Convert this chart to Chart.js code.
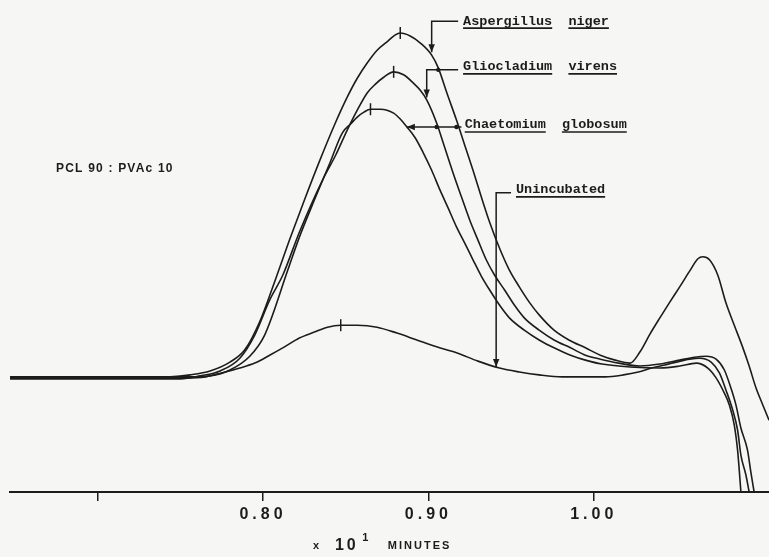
<!DOCTYPE html>
<html><head><meta charset="utf-8">
<script src="https://cdn.jsdelivr.net/npm/chart.js@4/dist/chart.umd.min.js"></script>
<style>html,body{margin:0;padding:0;background:#f6f6f4;}canvas{display:block;}</style>
</head><body>
<canvas id="c" width="769" height="557"></canvas>
<script>
// ---- data (elution time in units of 10 min, detector response in arbitrary units) ----
const xMin = 0.647, xMax = 1.106;
const xTickValues = [0.70, 0.80, 0.90, 1.00];
const xTickLabels = ['', '0.80', '0.90', '1.00'];

const aspergillusX = [0.647,0.702,0.744,0.756,0.768,0.780,0.789,0.798,0.807,0.816,0.825,0.834,0.844,0.851,0.857,0.863,0.869,0.875,0.880,0.883,0.889,0.895,0.902,0.906,0.911,0.917,0.922,0.927,0.932,0.937,0.943,0.949,0.955,0.961,0.967,0.976,0.985,0.995,1.004,1.013,1.022,1.028,1.034,1.040,1.046,1.052,1.058,1.063,1.066,1.070,1.075,1.080,1.085,1.090,1.094,1.098,1.102,1.106];
const aspergillusY = [23.2,23.2,23.4,23.8,24.6,26.4,28.9,34.6,42.7,51.2,59.3,67.1,75.2,80.3,84.1,87.2,89.8,91.5,92.9,93.3,92.7,91.3,88.8,86.2,81.3,75.6,70.5,65.4,60.0,54.9,49.6,45.1,41.7,38.6,36.0,32.9,30.9,29.3,27.8,26.8,26.2,28.5,32.1,35.4,38.6,41.7,44.9,47.4,47.8,47.2,44.1,38.4,33.9,29.5,25.6,21.3,17.9,14.6];

const gliocladiumX = [0.647,0.702,0.750,0.762,0.774,0.786,0.795,0.804,0.812,0.822,0.836,0.844,0.851,0.857,0.863,0.868,0.873,0.879,0.885,0.891,0.895,0.899,0.905,0.910,0.915,0.920,0.925,0.930,0.935,0.940,0.946,0.952,0.958,0.967,0.976,0.986,0.995,1.004,1.015,1.028,1.040,1.052,1.061,1.068,1.074,1.079,1.083,1.086,1.089,1.093,1.095,1.097];
const gliocladiumY = [23.0,23.0,23.0,23.6,24.6,27.2,31.9,39.0,44.1,52.8,63.4,68.5,73.6,77.6,81.1,82.9,84.3,85.4,84.8,83.1,81.7,79.7,75.0,69.9,64.8,60.0,55.3,51.2,47.2,44.1,41.1,38.0,35.4,32.9,30.9,29.3,27.8,27.0,26.2,25.6,26.0,26.8,27.4,27.6,27.0,24.8,21.1,17.7,13.0,8.5,4.1,0];

const chaetomiumX = [0.647,0.702,0.756,0.768,0.780,0.792,0.801,0.815,0.822,0.831,0.840,0.848,0.853,0.857,0.861,0.865,0.871,0.879,0.883,0.887,0.892,0.897,0.902,0.907,0.912,0.917,0.922,0.927,0.932,0.937,0.943,0.949,0.958,0.967,0.976,0.986,0.995,1.005,1.022,1.040,1.052,1.062,1.069,1.074,1.079,1.082,1.085,1.087,1.088,1.089];
const chaetomiumY = [23.4,23.4,23.4,23.6,24.8,27.6,31.9,45.1,51.8,59.3,66.5,73.0,74.8,76.2,77.2,77.8,77.8,77.0,75.8,74.2,72.0,68.9,65.4,61.4,57.7,53.9,50.6,47.2,43.9,41.1,38.0,35.4,32.9,30.9,29.3,27.8,26.8,26.0,25.4,25.2,25.6,26.2,25.2,23.2,20.1,17.7,13.6,8.5,4.5,0];

const unincubatedX = [0.647,0.702,0.753,0.765,0.775,0.786,0.795,0.804,0.813,0.822,0.831,0.839,0.847,0.857,0.869,0.881,0.893,0.905,0.917,0.930,0.943,0.955,0.967,0.981,0.996,1.007,1.018,1.027,1.035,1.043,1.050,1.058,1.064,1.071,1.076,1.080,1.084,1.087,1.089,1.092,1.094];
const unincubatedY = [23.2,23.2,23.2,23.4,24.2,25.2,26.2,27.8,29.5,31.3,32.5,33.5,33.9,33.9,33.5,32.3,30.9,29.5,28.3,26.6,25.2,24.4,23.8,23.4,23.4,23.4,23.8,24.4,25.2,25.8,26.4,27.0,27.2,26.4,24.2,20.7,16.7,12.6,7.5,3.5,0];

const peakX = [0.883, 0.879, 0.865, 0.847];
const peakY = [93.3, 85.4, 77.8, 33.9];

const seriesNames = ['Aspergillus niger', 'Gliocladium virens', 'Chaetomium globosum', 'Unincubated'];

// ---- layout / style ----
const INK = '#1c1c1c';
const PAPER = '#f6f6f4';
const MONO = 'bold 13.5px "Liberation Mono", "DejaVu Sans Mono", monospace';
const SANS = '"Liberation Sans", Arial, sans-serif';

const callouts = [
  {words:['Aspergillus','niger'],    tx:0.921, ty:95.7, path:[[0.918,95.7],[0.902,95.7],[0.902,89.4]], head:'down', dots:[]},
  {words:['Gliocladium','virens'],   tx:0.921, ty:86.4, path:[[0.918,85.8],[0.899,85.8],[0.899,80.2]], head:'down', dots:[[0.906,85.8]]},
  {words:['Chaetomium','globosum'],  tx:0.922, ty:74.6, path:[[0.920,74.2],[0.887,74.2]], head:'left', dots:[[0.905,74.2],[0.917,74.2]]},
  {words:['Unincubated'],            tx:0.953, ty:61.4, path:[[0.950,60.8],[0.941,60.8],[0.941,25.4]], head:'down', dots:[]}
];
const sampleNote = {text:'PCL 90 : PVAc 10', xRight:0.746, y:65.7};
const axisTitle = {x:0.8302, ten:0.8435, sup:0.8600, unit:0.8755};

function pts(xs, ys){ return xs.map((x,i)=>({x:x, y:ys[i]})); }
function curve(label, xs, ys){
  return {label:label, data:pts(xs, ys), borderColor:INK, borderWidth:1.6, pointRadius:0,
          cubicInterpolationMode:'monotone', fill:false, order:2};
}

const paperPlugin = {
  id:'paper',
  beforeDraw(chart){
    const ctx = chart.ctx;
    ctx.save(); ctx.fillStyle = PAPER; ctx.fillRect(0,0,chart.width,chart.height); ctx.restore();
    ctx.letterSpacing = '4px';
  },
  beforeDatasetsDraw(chart){ chart.ctx.letterSpacing = '0px'; }
};

const annotPlugin = {
  id:'annot',
  afterDatasetsDraw(chart){
    const {ctx, scales:{x, y}, chartArea} = chart;
    ctx.save();
    ctx.strokeStyle = INK; ctx.fillStyle = INK; ctx.lineWidth = 1.5;
    ctx.letterSpacing = '0px';
    callouts.forEach(c => {
      ctx.beginPath(); ctx.lineWidth = 1.5;
      c.path.forEach((p,i) => {
        const px = x.getPixelForValue(p[0]), py = y.getPixelForValue(p[1]);
        if (i === 0) ctx.moveTo(px, py); else ctx.lineTo(px, py);
      });
      ctx.stroke();
      const end = c.path[c.path.length-1];
      const ex = x.getPixelForValue(end[0]), ey = y.getPixelForValue(end[1]);
      ctx.beginPath();
      if (c.head === 'down') { ctx.moveTo(ex, ey); ctx.lineTo(ex-3.2, ey-8); ctx.lineTo(ex+3.2, ey-8); }
      else { ctx.moveTo(ex, ey); ctx.lineTo(ex+8, ey-3.2); ctx.lineTo(ex+8, ey+3.2); }
      ctx.closePath(); ctx.fill();
      c.dots.forEach(d => {
        ctx.beginPath();
        ctx.arc(x.getPixelForValue(d[0]), y.getPixelForValue(d[1]), 2.2, 0, Math.PI*2);
        ctx.fill();
      });
      ctx.font = MONO; ctx.textBaseline = 'middle'; ctx.textAlign = 'left';
      let tx = x.getPixelForValue(c.tx);
      const ty = y.getPixelForValue(c.ty);
      const space = ctx.measureText('  ').width;
      c.words.forEach(w => {
        ctx.fillText(w, tx, ty);
        const wWidth = ctx.measureText(w).width;
        ctx.beginPath(); ctx.lineWidth = 1.6;
        ctx.moveTo(tx, ty + 7); ctx.lineTo(tx + wWidth, ty + 7); ctx.stroke();
        tx += wWidth + space;
      });
    });
    // sample composition note
    ctx.font = 'bold 12px ' + SANS; ctx.letterSpacing = '1.2px';
    ctx.textBaseline = 'middle'; ctx.textAlign = 'right';
    ctx.fillText(sampleNote.text, x.getPixelForValue(sampleNote.xRight), y.getPixelForValue(sampleNote.y));

    // axis title: x 10^1 MINUTES
    const baseY = chartArea.bottom + 57;
    ctx.textAlign = 'left'; ctx.textBaseline = 'alphabetic';
    ctx.letterSpacing = '0px'; ctx.font = 'bold 11px ' + SANS;
    ctx.fillText('x', x.getPixelForValue(axisTitle.x), baseY);
    ctx.font = 'bold 16px ' + SANS; ctx.letterSpacing = '3px';
    ctx.fillText('10', x.getPixelForValue(axisTitle.ten), baseY + 1);
    ctx.font = 'bold 11px ' + SANS; ctx.letterSpacing = '0px';
    ctx.fillText('1', x.getPixelForValue(axisTitle.sup), baseY - 8);
    ctx.font = 'bold 11px ' + SANS; ctx.letterSpacing = '2px';
    ctx.fillText('MINUTES', x.getPixelForValue(axisTitle.unit), baseY);
    ctx.restore();
  }
};

new Chart(document.getElementById('c'), {
  type:'line',
  data:{
    datasets:[
      curve(seriesNames[0], aspergillusX, aspergillusY),
      curve(seriesNames[1], gliocladiumX, gliocladiumY),
      curve(seriesNames[2], chaetomiumX, chaetomiumY),
      curve(seriesNames[3], unincubatedX, unincubatedY),
      {label:'peak maxima', data:pts(peakX, peakY), showLine:false, pointStyle:'line', rotation:90,
       pointRadius:6, pointBorderColor:INK, pointBorderWidth:1.5, borderColor:INK, order:1}
    ]
  },
  options:{
    responsive:false, animation:false, devicePixelRatio:1,
    layout:{autoPadding:false, padding:{left:10, right:0, top:0, bottom:0}},
    plugins:{legend:{display:false}, tooltip:{enabled:false}, title:{display:false}},
    scales:{
      x:{type:'linear', min:xMin, max:xMax,
         afterBuildTicks: s => { s.ticks = xTickValues.map(v => ({value:v})); },
         afterFit: s => { s.height = 65; s.paddingLeft = 0; s.paddingRight = 0; },
         ticks:{callback:(v,i) => xTickLabels[i], color:INK, autoSkip:false, maxRotation:0, padding:4,
                font:{family:SANS, size:16, weight:'bold'}},
         grid:{drawOnChartArea:false, drawTicks:true, tickLength:9, color:INK, lineWidth:1.5},
         border:{display:true, color:INK, width:2}},
      y:{display:false, min:0, max:100}
    }
  },
  plugins:[paperPlugin, annotPlugin]
});
</script>
</body></html>
